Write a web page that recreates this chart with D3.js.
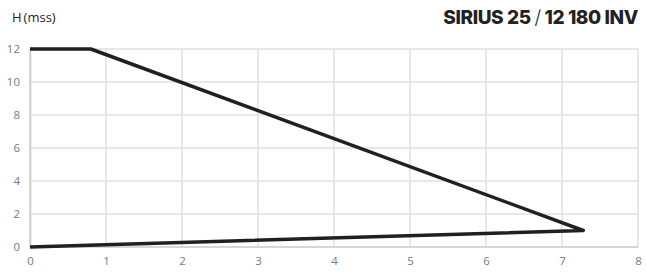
<!DOCTYPE html>
<html>
<head>
<meta charset="utf-8">
<script src="https://cdn.jsdelivr.net/npm/d3@7"></script>
<style>
body{margin:0;background:#fff;}
svg{display:block;font-family:"Open Sans",sans-serif;}
</style>
</head>
<body>
<div id="chart"></div>
<script>
// pump curve points (Q, H)
var flow = [0, 0.8, 7.28, 0];
var head = [12, 12, 1.0, 0];
var xTicks = [0,1,2,3,4,5,6,7,8];
var yTicks = [0,2,4,6,8,10,12];

var width = 646, height = 275;
var margin = {top:49, right:8, bottom:28, left:30};
var chartWidth = width - margin.left - margin.right;
var chartHeight = height - margin.top - margin.bottom;

var svg = d3.select('#chart').append('svg')
  .attr('width', width)
  .attr('height', height);

var g = svg.append('g')
  .attr('transform', `translate(${margin.left},${margin.top})`);

var xScale = d3.scaleLinear().domain([0,8]).range([0, chartWidth]);
var yScale = d3.scaleLinear().domain([0,12]).range([chartHeight, 0]);

// grid
g.append('g')
  .selectAll('line')
  .data(xTicks)
  .join('line')
    .attr('x1', d => xScale(d)).attr('x2', d => xScale(d))
    .attr('y1', 0).attr('y2', chartHeight)
    .attr('stroke', '#e0e0e0').attr('stroke-width', 1.5);

g.append('g')
  .selectAll('line')
  .data(yTicks)
  .join('line')
    .attr('x1', 0).attr('x2', chartWidth)
    .attr('y1', d => yScale(d)).attr('y2', d => yScale(d))
    .attr('stroke', d => d == 0 ? '#c8c8c8' : '#e0e0e0').attr('stroke-width', 1.5);

var xAxis = d3.axisBottom(xScale).tickValues(xTicks).tickSize(0).tickPadding(10);
var yAxis = d3.axisLeft(yScale).tickValues(yTicks).tickSize(0).tickPadding(10);

g.append('g')
  .attr('class','x axis')
  .attr('transform', `translate(0,${chartHeight})`)
  .call(xAxis)
  .call(s => s.select('.domain').remove())
  .selectAll('text')
    .style('font-size','11.5px')
    .style('font-family','"Open Sans",sans-serif')
    .attr('fill','#7a7a7a');

g.append('g')
  .attr('class','y axis')
  .call(yAxis)
  .call(s => s.select('.domain').attr('stroke','#c8c8c8').attr('stroke-width',1.5))
  .selectAll('text')
    .style('font-size','11.5px')
    .style('font-family','"Open Sans",sans-serif')
    .attr('fill','#7a7a7a');

var pts = flow.map((q,i) => [q, head[i]]);

var line = d3.line()
  .x(d => xScale(d[0]))
  .y(d => yScale(d[1]));

g.append('path')
  .datum(pts)
  .attr('d', line)
  .attr('fill','none')
  .attr('stroke','#231f20')
  .attr('stroke-width',3.5)
  .attr('stroke-linejoin','round');

// labels
svg.append('text')
  .attr('x', 12).attr('y', 22)
  .style('font-size','13px')
  .attr('fill','#222')
  .text('H')
  .append('tspan')
    .attr('dx', 2)
    .text('(mss)');

var title = svg.append('text')
  .attr('x', 638).attr('y', 24)
  .attr('text-anchor','end')
  .style('font-size','19px')
  .style('letter-spacing','-0.4px')
  .style('font-family','Inter, "Open Sans", sans-serif')
  .attr('fill','#222');
title.append('tspan').attr('font-weight','800').text('SIRIUS 25 ');
title.append('tspan').attr('font-weight','300').text('/');
title.append('tspan').attr('font-weight','800').text(' 12 180 INV');
</script>
</body>
</html>
